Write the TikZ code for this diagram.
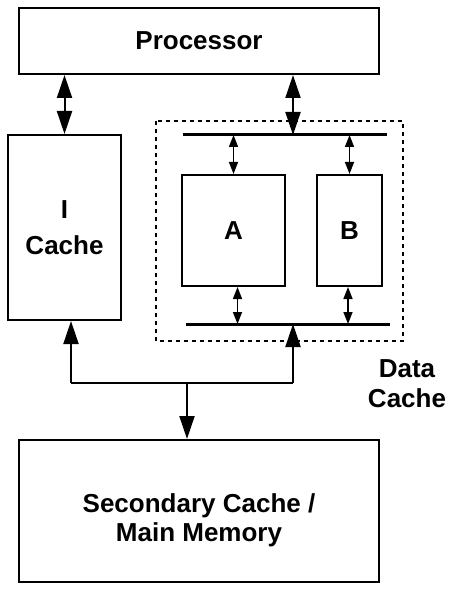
\documentclass[tikz,border=0pt]{standalone}
\usepackage{fontspec}
\setmainfont{Liberation Sans}
\usetikzlibrary{arrows.meta}
\tikzset{
  blk/.style={draw, line width=1pt, inner sep=0pt, align=center,
    font=\fontsize{13}{17}\selectfont\bfseries},
  lbl/.style={inner sep=0pt, align=center, font=\fontsize{13}{15}\selectfont\bfseries},
  bus/.style={line width=1.5pt},
  bigtip/.style={line width=1pt, -{Triangle[length=11.5pt,width=7.5pt]}},
  bigboth/.style={line width=1pt, {Triangle[length=11.5pt,width=7.5pt]}-{Triangle[length=11.5pt,width=7.5pt]}},
  smallboth/.style={line width=0.8pt, {Triangle[length=6pt,width=4.5pt]}-{Triangle[length=6pt,width=4.5pt]}}
}
\begin{document}
\begin{tikzpicture}[x=0.5pt,y=-0.5pt]
  \useasboundingbox (0,0) rectangle (450,592);
  % blocks
  \node[blk, minimum width=180pt, minimum height=33pt] (proc) at (199,41) {Processor};
  \node[blk, minimum width=56.5pt, minimum height=92.5pt] (icache) at (64.5,227.5) {I\\[1pt]Cache};
  \node[blk, minimum width=51.5pt, minimum height=55.5pt] (A) at (233.5,230.5) {A};
  \node[blk, minimum width=32.5pt, minimum height=55.5pt] (B) at (349.5,230.5) {B};
  \node[blk, minimum width=180pt, minimum height=71pt] (mem) at (199,511) {};
  \node[lbl, font=\fontsize{13}{14.5}\selectfont\bfseries] (memtext) at (199,520) {Secondary Cache /\\Main Memory};
  % data cache
  \draw[line width=0.9pt, dash pattern=on 2pt off 2pt] (156,121) rectangle (403,341);
  \node[lbl] (dlabel) at (407,384) {Data\\Cache};
  \coordinate (tbL) at (183,135);
  \coordinate (tbR) at (387,135);
  \coordinate (tb) at (293,135);
  \coordinate (bbL) at (186,324);
  \coordinate (bbR) at (390,324);
  \draw[bus] (tbL) -- (tbR);
  \draw[bus] (bbL) -- (bbR);
  % connections
  \draw[bigboth] (icache.north |- proc.south) -- (icache.north);
  \draw[bigboth] (proc.south -| tb) -- (tb);
  \draw[smallboth] (A.north |- tbL) -- (A.north);
  \draw[smallboth] (B.north |- tbL) -- (B.north);
  \draw[smallboth] ([xshift=2pt]A.south) -- ([xshift=2pt]A.south |- bbL);
  \draw[smallboth] ([xshift=-0.75pt]B.south) -- ([xshift=-0.75pt]B.south |- bbL);
  % to memory
  \coordinate (jl) at (71,383);
  \coordinate (jr) at (293,383);
  \coordinate (split) at (187,383);
  \draw[line width=1pt] (jl) -- (jr);
  \draw[bigtip] (jl) -- (jl |- icache.south);
  \draw[bigtip] (jr) -- (jr |- bbL);
  \draw[bigtip] (split) -- (split |- mem.north);
\end{tikzpicture}
\end{document}
